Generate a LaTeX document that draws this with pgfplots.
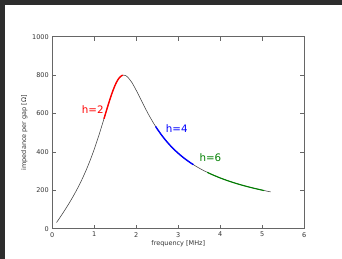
\documentclass[border=0pt]{standalone}
\usepackage{pgfplots}
\pgfplotsset{compat=1.18}
\usepackage{fontspec}
\setmainfont{DejaVu Sans}
\definecolor{frame}{HTML}{2D2D2D}
\definecolor{mplgreen}{HTML}{008000}
\begin{document}
\begin{tikzpicture}[x=1pt,y=1pt]
\useasboundingbox (0,0) rectangle (342,259);
\fill[white] (0,0) rectangle (342,259);
\fill[frame] (0,254) rectangle (342,259);
\fill[frame] (0,0) rectangle (5,259);
\begin{axis}[
  at={(52.3pt,30.3pt)}, anchor=south west,
  scale only axis, width=252pt, height=192pt,
  xmin=0, xmax=6, ymin=0, ymax=1000,
  xtick={0,1,2,3,4,5,6}, ytick={0,200,400,600,800,1000},
  tick align=inside, major tick length=4pt,
  tick style={black!60, line width=0.5pt},
  axis line style={black!60, line width=0.8pt},
  /pgf/number format/assume math mode=true,
  /pgf/number format/1000 sep={},
  tick label style={font=\fontsize{6.5}{7}\selectfont, text=black!80},
  label style={font=\fontsize{6.5}{7}\selectfont, text=black!80},
  xlabel={frequency [MHz]},
  ylabel={impedance per gap [Ω]},
  xlabel style={yshift=3pt},
  ylabel style={yshift=-2pt},
  clip=false,
]
\addplot[black!75, line width=0.55pt, smooth, tension=0.4] coordinates {
(0.1,31.8)(0.2,64.2)(0.3,97.5)(0.4,132.5)(0.5,169.7)(0.6,209.9)(0.7,253.6)(0.8,301.9)(0.9,355.4)(1.0,414.8)(1.1,480.2)(1.2,550.5)(1.25,586.8)(1.3,623.1)(1.35,658.4)(1.4,692.1)(1.45,722.9)(1.5,749.7)(1.55,771.5)(1.6,787.3)(1.65,796.9)(1.7,800)(1.75,797.1)(1.8,788.7)(1.9,759.6)(2.0,720.0)(2.1,676.4)(2.2,632.8)(2.3,591.6)(2.4,553.5)(2.5,519.1)(2.6,488.1)(2.7,460.2)(2.8,435.2)(2.9,412.7)(3.0,392.4)(3.1,373.9)(3.2,357.2)(3.3,341.9)(3.4,328.0)(3.5,315.1)(3.6,303.3)(3.8,282.3)(4.0,264.1)(4.2,248.2)(4.4,234.2)(4.6,221.8)(4.8,210.7)(5.0,200.7)(5.2,191.7)
};
\addplot[red, line width=1.4pt, smooth, tension=0.4] coordinates {
(1.23,572.3)(1.25,586.8)(1.3,623.1)(1.35,658.4)(1.4,692.1)(1.45,722.9)(1.5,749.7)(1.55,771.5)(1.6,787.3)(1.65,796.9)(1.68,799.5)
};
\addplot[blue, line width=1.4pt, smooth, tension=0.4] coordinates {
(2.46,532.5)(2.5,519.1)(2.6,488.1)(2.7,460.2)(2.8,435.2)(2.9,412.7)(3.0,392.4)(3.1,373.9)(3.2,357.2)(3.3,341.9)(3.36,333.4)
};
\addplot[mplgreen, line width=1.1pt, smooth, tension=0.4] coordinates {
(3.69,293.4)(3.8,282.3)(4.0,264.1)(4.2,248.2)(4.4,234.2)(4.6,221.8)(4.8,210.7)(5.0,200.7)(5.04,198.8)
};
\node[anchor=base west, text=red, font=\fontsize{10.3}{12}\selectfont, inner sep=0pt] at (axis cs:0.7,600) {h=2};
\node[anchor=base west, text=blue, font=\fontsize{10.3}{12}\selectfont, inner sep=0pt] at (axis cs:2.7,500) {h=4};
\node[anchor=base west, text=mplgreen, font=\fontsize{10.3}{12}\selectfont, inner sep=0pt] at (axis cs:3.5,350) {h=6};
\end{axis}
\end{tikzpicture}
\end{document}
